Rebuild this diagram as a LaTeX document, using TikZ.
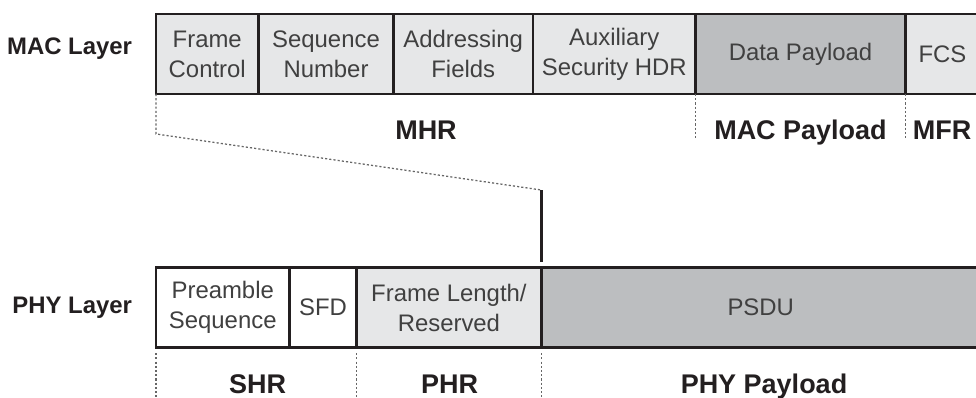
\documentclass[tikz,border=0pt]{standalone}
\usepackage{fontspec}
\setmainfont{Liberation Sans}
\usetikzlibrary{positioning}
\definecolor{ink}{HTML}{231F20}
\definecolor{lgray}{HTML}{E6E7E8}
\definecolor{dgray}{HTML}{BCBEC0}
\begin{document}
\begin{tikzpicture}[
  field/.style={draw=ink,line width=1.9pt,outer sep=0pt,inner sep=0pt,minimum height=2cm,
    align=center,text=black!75,font=\fontsize{17}{21.3}\selectfont},
  layer/.style={anchor=base east,text=ink,font=\fontsize{17}{20}\selectfont\bfseries},
  part/.style={anchor=base,text=ink,font=\fontsize{19.2}{22}\selectfont\bfseries},
  guide/.style={black!60,line width=0.9pt,dash pattern=on 1.5pt off 1.5pt}
]
\useasboundingbox (0,0) rectangle (24.4,9.925);

% MAC frame
\node[layer] at (3.425,8.55) {MAC Layer};
\node[field,fill=lgray,anchor=west,minimum width=2.5625cm] (fc) at (3.9,8.576) {Frame\\Control};
\node[field,fill=lgray,minimum width=3.375cm,right=0pt of fc] (seqn) {Sequence\\Number};
\node[field,fill=lgray,minimum width=3.4875cm,right=0pt of seqn] (addr) {Addressing\\Fields};
\node[field,fill=lgray,minimum width=4.0625cm,right=0pt of addr] (aux) {Auxiliary\\Security HDR};
\node[field,fill=dgray,minimum width=5.25cm,right=0pt of aux] (data) {Data Payload};
\node[field,fill=lgray,minimum width=1.85cm,right=0pt of data] (fcs) {FCS};

\draw[guide] (data.south west) -- ++(0,-1.15);
\draw[guide] (fcs.south west) -- ++(0,-1.15);
\node[part] at (10.65,6.425) {MHR};
\node[part] at (20.0125,6.425) {MAC Payload};
\node[part] at (23.55,6.425) {MFR};

% PHY frame
\node[layer] at (3.425,2.1) {PHY Layer};
\node[field,fill=white,anchor=west,minimum width=3.3375cm] (pre) at (3.9,2.2375) {Preamble\\Sequence};
\node[field,fill=white,minimum width=1.675cm,right=0pt of pre] (sfd) {SFD};
\node[field,fill=lgray,minimum width=4.62cm,right=0pt of sfd] (flen) {Frame Length/\\Reserved};
\node[field,fill=dgray,minimum width=10.97cm,right=0pt of flen] (psdu) {PSDU};

\foreach \n in {pre,flen,psdu}
  \draw[guide] ([yshift=-4pt]\n.south west) -- ++(0,-1.3);
\node[part] at (6.4375,0.1) {SHR};
\node[part] at (11.2375,0.1) {PHR};
\node[part] at (19.1,0.1) {PHY Payload};

% MAC frame carried in the PSDU
\coordinate (bend) at ([yshift=-1cm]fc.south west);
\coordinate (join) at (psdu.north west |- 0,5.175);
\draw[guide] (fc.south west) -- (bend) -- (join);
\draw[ink,line width=1.9pt] (join) -- ([yshift=4pt]psdu.north west);
\end{tikzpicture}
\end{document}
